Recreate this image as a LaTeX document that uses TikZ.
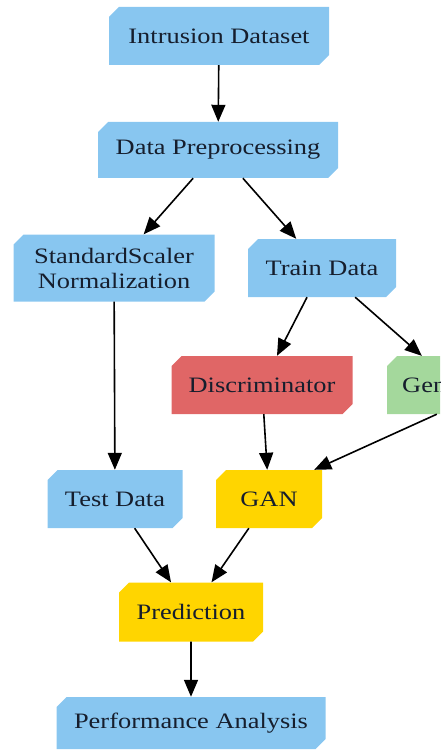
\documentclass[tikz,border=0pt]{standalone}
\usepackage{fontspec}
\setmainfont{Liberation Serif}[FakeStretch=1.2]
\usetikzlibrary{shapes.misc,arrows.meta}
\definecolor{nblue}{RGB}{136,198,240}
\definecolor{nred}{RGB}{224,102,102}
\definecolor{ngreen}{RGB}{164,216,156}
\definecolor{nyellow}{RGB}{255,213,0}
\definecolor{ntext}{RGB}{22,30,45}
\tikzset{
  boxnode/.style={chamfered rectangle, chamfered rectangle corners={north west,south east},
    chamfered rectangle xsep=5pt, chamfered rectangle ysep=5pt,
    inner sep=0pt, draw=none, text=ntext, align=center,
    font=\fontsize{22}{25}\selectfont},
  conn/.style={line width=1.6pt, -{Triangle[length=17pt,width=14pt]}}
}
\begin{document}
\begin{tikzpicture}[x=1pt,y=-1pt]
\useasboundingbox (0,0) rectangle (440,751);
\clip (0,0) rectangle (440,751);
\node[boxnode, fill=nblue, minimum width=220pt, minimum height=58pt] (ids) at (219,36) {Intrusion Dataset};
\node[boxnode, fill=nblue, minimum width=240pt, minimum height=56pt] (pre) at (218,150) {Data Preprocessing};
\node[boxnode, fill=nblue, minimum width=201pt, minimum height=67pt] (std) at (114,268) {StandardScaler\\Normalization};
\node[boxnode, fill=nblue, minimum width=148pt, minimum height=58pt] (train) at (322,268) {Train Data};
\node[boxnode, fill=nred, minimum width=181pt, minimum height=58pt] (disc) at (262,385) {Discriminator};
\node[boxnode, fill=ngreen, minimum width=136pt, minimum height=58pt] (gen) at (455,385) {Generator};
\node[boxnode, fill=nblue, minimum width=135pt, minimum height=58pt] (test) at (115,499) {Test Data};
\node[boxnode, fill=nyellow, minimum width=106pt, minimum height=58pt] (gan) at (269,499) {GAN};
\node[boxnode, fill=nyellow, minimum width=144pt, minimum height=59pt] (pred) at (191,612) {Prediction};
\node[boxnode, fill=nblue, minimum width=269pt, minimum height=52pt] (perf) at (191,723) {Performance Analysis};
\draw[conn] (ids) -- (pre);
\draw[conn] (pre) -- (std);
\draw[conn] (pre) -- (train);
\draw[conn] (std) -- (test);
\draw[conn] (train) -- (disc);
\draw[conn] (train) -- (gen);
\draw[conn] (disc) -- (gan);
\draw[conn] ([xshift=50pt]gen.south west) -- ([xshift=-8pt]gan.north east);
\draw[conn] (test) -- (pred);
\draw[conn] (gan) -- (pred);
\draw[conn] (pred) -- (perf);
\end{tikzpicture}
\end{document}
